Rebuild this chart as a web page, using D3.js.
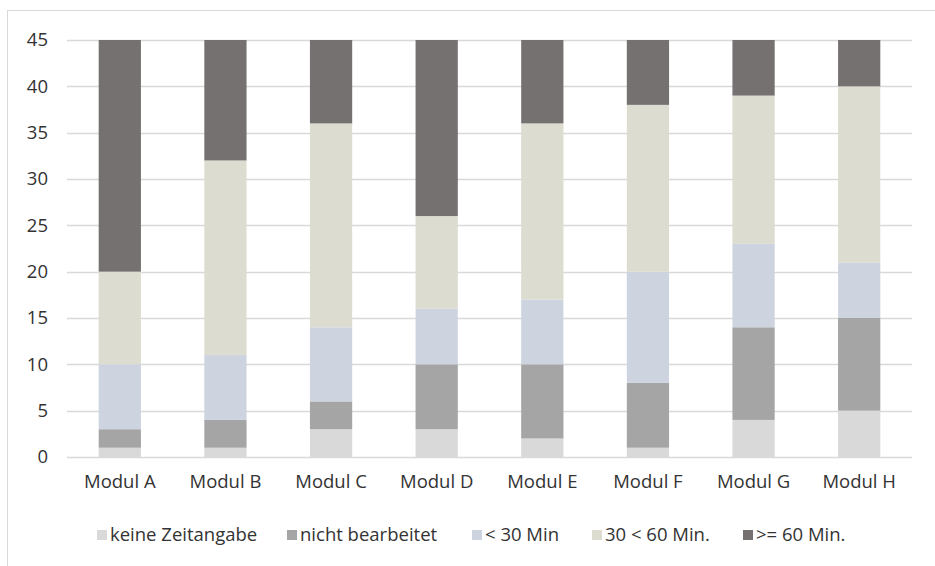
<!DOCTYPE html>
<html><head><meta charset="utf-8">
<script src="https://cdn.jsdelivr.net/npm/d3@7"></script>
<style>
html,body{margin:0;padding:0;background:#fff;}
svg{display:block;font-family:"Open Sans",sans-serif;}
</style></head>
<body><svg id="c" width="935" height="566"></svg>
<script>
const categories = ["Modul A","Modul B","Modul C","Modul D","Modul E","Modul F","Modul G","Modul H"];
const seriesNames = ["keine Zeitangabe","nicht bearbeitet","< 30 Min","30 < 60 Min.",">= 60 Min."];
const keineZeitangabe = [1,1,3,3,2,1,4,5];
const nichtBearbeitet = [2,3,3,7,8,7,10,10];
const unter30 = [7,7,8,6,7,12,9,6];
const von30bis60 = [10,21,22,10,19,18,16,19];
const ueber60 = [25,13,9,19,9,7,6,5];
const yTicks = [0,5,10,15,20,25,30,35,40,45];
const colors = ["#d9d9d9","#a5a5a5","#cdd4e0","#dddcd0","#767171"];

const seriesValues = [keineZeitangabe,nichtBearbeitet,unter30,von30bis60,ueber60];
const rows = categories.map((c,i)=>{const r={cat:c};seriesNames.forEach((s,j)=>r[s]=seriesValues[j][i]);return r;});
const stacked = d3.stack().keys(seriesNames)(rows);

const FS = "18.5px";
const TC = "#333333";
const svg = d3.select("#c");
// outer frame
svg.append("rect").attr("x",7.5).attr("y",10.5).attr("width",940).attr("height",570)
  .attr("fill","none").attr("stroke","#d9d9d9").attr("stroke-width",1);

const x = d3.scaleBand().domain(categories).range([67,912]).paddingInner(0.6).paddingOuter(0.3);
const y = d3.scaleLinear().domain([0,45]).range([457,40]);

// gridlines
svg.append("g").selectAll("line").data(yTicks).join("line")
  .attr("x1",67).attr("x2",912).attr("y1",d=>Math.round(y(d))+0.5).attr("y2",d=>Math.round(y(d))+0.5)
  .attr("stroke","#d9d9d9").attr("stroke-width",1.5);

// y axis labels
const yAxis = d3.axisLeft(y).tickValues(yTicks).tickSize(0).tickPadding(0);
const ya = svg.append("g").attr("transform","translate(48,0)").call(yAxis);
ya.select(".domain").remove();
ya.selectAll("text").attr("font-size",FS).attr("fill",TC).attr("font-family","Open Sans");

// bars
svg.append("g").selectAll("g").data(stacked).join("g").attr("fill",(d,i)=>colors[i])
  .selectAll("rect").data(d=>d).join("rect")
  .attr("x",d=>x(d.data.cat)).attr("width",x.bandwidth())
  .attr("y",d=>y(d[1])).attr("height",d=>y(d[0])-y(d[1]));

// x axis labels
const xAxis = d3.axisBottom(x).tickSize(0).tickPadding(0);
const xa = svg.append("g").attr("transform","translate(0,475)").call(xAxis);
xa.select(".domain").remove();
xa.selectAll("text").attr("font-size",FS).attr("fill",TC).attr("font-family","Open Sans").attr("dy","0.71em");

// legend
const legendX = [97,287,472,592,743];
const lg = svg.append("g").selectAll("g").data(seriesNames).join("g")
  .attr("transform",(d,i)=>`translate(${legendX[i]},535)`);
lg.append("rect").attr("x",0).attr("y",-5).attr("width",10).attr("height",10).attr("fill",(d,i)=>colors[i]);
lg.append("text").attr("x",13).attr("y",0).attr("dy","0.35em").text(d=>d)
  .attr("font-size",FS).attr("fill",TC).attr("font-family","Open Sans");
</script></body></html>
